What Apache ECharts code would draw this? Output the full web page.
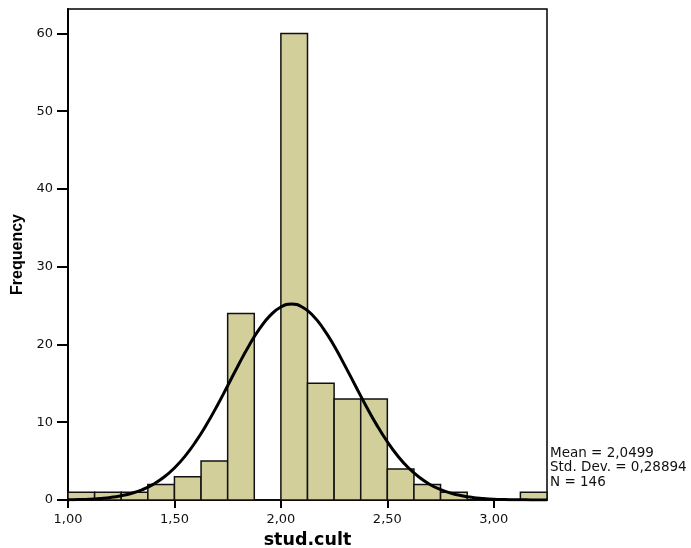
<!DOCTYPE html>
<html>
<head>
<meta charset="utf-8">
<script src="https://cdn.jsdelivr.net/npm/echarts@6/dist/echarts.min.js"></script>
<style>html,body{margin:0;padding:0;background:#fff;}#c{width:691px;height:548px;}</style>
</head>
<body>
<div id="c"></div>
<script>
// Histogram bins (start of each bin, width 0.125)
var binStarts = [1.000,1.125,1.250,1.375,1.500,1.625,1.750,1.875,2.000,2.125,2.250,2.375,2.500,2.625,2.750,2.875,3.000,3.125];
var binWidth = 0.125;
var counts = [1,1,1,2,3,5,24,0,60,15,13,13,4,2,1,0,0,1];
// Normal curve (x, frequency)
var curveX = [1.00,1.05,1.10,1.15,1.20,1.25,1.30,1.35,1.40,1.45,1.50,1.55,1.60,1.65,1.70,1.75,1.80,1.85,1.90,1.95,2.00,2.05,2.10,2.15,2.20,2.25,2.30,2.35,2.40,2.45,2.50,2.55,2.60,2.65,2.70,2.75,2.80,2.85,2.90,2.95,3.00,3.05,3.10,3.15,3.20,3.25];
var curveY = [0.03,0.06,0.11,0.20,0.33,0.55,0.87,1.34,2.01,2.92,4.12,5.64,7.50,9.67,12.10,14.70,17.34,19.84,22.03,23.74,24.82,25.20,24.82,23.73,22.02,19.83,17.32,14.69,12.09,9.66,7.49,5.63,4.11,2.92,2.00,1.34,0.87,0.55,0.33,0.20,0.11,0.06,0.03,0.02,0.01,0.005];
var xTicks = [1.0,1.5,2.0,2.5,3.0];
var yTicks = [0,10,20,30,40,50,60];
var statsLines = ['Mean = 2,0499','Std. Dev. = 0,28894','N = 146'];

var barData = binStarts.map(function(s,i){return [s, s+binWidth, counts[i]];});
var lineData = curveX.map(function(x,i){return [x, curveY[i]];});

var chart = echarts.init(document.getElementById('c'), null, {renderer:'canvas'});
var font = '"DejaVu Sans", Arial, Helvetica, sans-serif';
var lfont = '"Liberation Sans", Arial, Helvetica, sans-serif';
chart.setOption({
  animation:false,
  backgroundColor:'#fff',
  grid:{left:68, top:9, right:144, bottom:48, show:true, containLabel:false, outerBoundsMode:'none',
        borderColor:'#000', borderWidth:1.5, backgroundColor:'transparent'},
  xAxis:{
    type:'value', min:1, max:3.25, interval:0.5,
    axisLine:{show:true, onZero:false, lineStyle:{color:'#000', width:2}},
    axisTick:{show:true, length:8, inside:false, lineStyle:{color:'#000', width:2}},
    axisLabel:{show:true, color:'#111', fontFamily:font, fontSize:13, margin:13,
      formatter:function(v){ for (var i=0;i<xTicks.length;i++){ if (Math.abs(v-xTicks[i])<1e-6) return v.toFixed(2).replace('.',','); } return ''; },
      showMaxLabel:false},
    splitLine:{show:false},
    name:'stud.cult', nameLocation:'middle', nameGap:31,
    nameTextStyle:{fontFamily:font, fontSize:17.5, fontWeight:'bold', color:'#000'}
  },
  yAxis:{
    type:'value', min:0, max:63.15, interval:10,
    axisLine:{show:true, lineStyle:{color:'#000', width:2}},
    axisTick:{show:true, length:11, lineStyle:{color:'#000', width:2}},
    axisLabel:{color:'#111', fontFamily:font, fontSize:13, margin:15,
      formatter:function(v){ return yTicks.indexOf(v)>=0 ? String(v) : ''; }, showMaxLabel:false},
    splitLine:{show:false},
    name:'Frequency', nameLocation:'middle', nameGap:41, nameRotate:90,
    nameTextStyle:{fontFamily:lfont, fontSize:16, fontWeight:'bold', color:'#000'}
  },
  series:[
    {
      type:'custom',
      data:barData,
      encode:{x:[0,1], y:2},
      renderItem:function(params, api){
        var p0 = api.coord([api.value(0), 0]);
        var p1 = api.coord([api.value(1), api.value(2)]);
        return {type:'rect', shape:{x:p0[0], y:p1[1], width:p1[0]-p0[0], height:p0[1]-p1[1]},
          style:{fill:'#d3cf9b', stroke:'#111', lineWidth:1.5}};
      },
      z:2
    },
    {
      type:'line', data:lineData, smooth:true, showSymbol:false, symbol:'none',
      lineStyle:{color:'#000', width:3}, z:3, clip:true
    }
  ],
  graphic:[{
    type:'text', left:550, top:446,
    style:{text:statsLines.join('\n'), font:'13.5px '+font, fill:'#111', lineHeight:14.5}
  }]
});
</script>
</body>
</html>
